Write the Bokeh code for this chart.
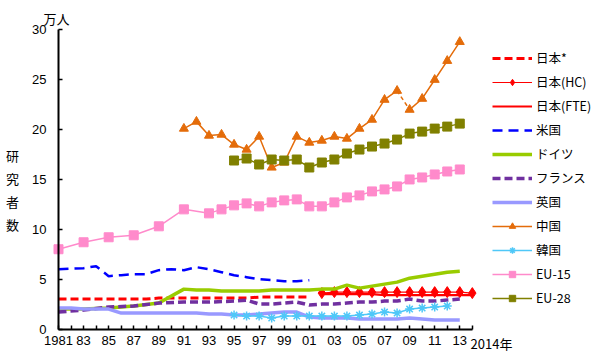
from bokeh.plotting import figure
from bokeh.models import (Range1d, FixedTicker, Label, Legend, LegendItem)
from bokeh.embed import file_html
from bokeh.resources import INLINE

# ---------------- data (万人) ----------------
jp_old_years = list(range(1981, 2002))
jp_old = [3.0, 3.0, 3.0, 3.0, 3.0, 3.0, 3.0, 3.0, 3.1, 3.1, 3.1, 3.1, 3.1, 3.1, 3.1,
          3.1, 3.2, 3.2, 3.2, 3.2, 3.2]

jp_years = list(range(2002, 2015))
jp_hc = [3.6, 3.7, 3.7, 3.7, 3.7, 3.7, 3.7, 3.7, 3.7, 3.7, 3.7, 3.7, 3.6]
jp_fte = [3.5, 3.5, 3.5, 3.5, 3.5, 3.4, 3.4, 3.4, 3.4, 3.4, 3.4, 3.4, 3.4]

us_years = [1981, 1983, 1984, 1985, 1986, 1987, 1988, 1989, 1990, 1991, 1992, 1993,
            1994, 1995, 1996, 1997, 1998, 1999, 2000, 2001]
us = [6.0, 6.1, 6.3, 5.3, 5.4, 5.5, 5.5, 5.9, 6.0, 5.9, 6.2, 6.0,
      5.7, 5.4, 5.2, 5.0, 4.9, 4.8, 4.8, 4.9]

de_years = [1981, 1983, 1985, 1987, 1989, 1991, 1992, 1993, 1994, 1995, 1996, 1997,
            1998, 1999, 2000, 2001, 2002, 2003, 2004, 2005, 2006, 2007, 2008, 2009,
            2010, 2011, 2012, 2013]
de = [2.0, 2.0, 2.1, 2.3, 2.6, 4.0, 3.9, 3.9, 3.8, 3.8, 3.8, 3.8,
      3.9, 3.9, 3.9, 3.9, 4.0, 4.0, 4.4, 4.1, 4.3, 4.5, 4.7, 5.1,
      5.3, 5.5, 5.7, 5.8]

fr_years = [1981, 1983, 1985, 1987, 1989, 1991, 1993, 1995, 1996, 1997, 1998, 1999,
            2000, 2001, 2002, 2003, 2004, 2005, 2006, 2007, 2008, 2009, 2010, 2011,
            2012, 2013]
fr = [1.7, 1.9, 2.2, 2.3, 2.6, 2.7, 2.7, 2.8, 2.9, 2.5, 2.5, 2.6,
      2.7, 2.4, 2.5, 2.5, 2.6, 2.7, 2.7, 2.8, 2.8, 3.0, 2.8, 2.8,
      2.9, 3.0]

uk_years = list(range(1981, 2014))
uk = [2.1, 2.1, 2.0, 2.0, 2.0, 1.6, 1.6, 1.6, 1.6, 1.6, 1.6, 1.6, 1.5, 1.5, 1.4,
      1.4, 1.5, 1.6, 1.7, 1.7, 1.2, 1.1, 1.1, 1.1, 1.0, 1.0, 1.0, 1.0, 1.1, 1.0,
      0.9, 0.9, 0.9]

cn_years = list(range(1991, 2014))
cn = [20.1, 20.8, 19.4, 19.5, 18.5, 18.0, 19.3, 16.2, 16.7, 19.3, 18.7, 18.9,
      19.3, 19.1, 20.1, 21.0, 23.0, 23.9, 22.0, 23.1, 25.0, 26.9, 28.8]
cn_break = 2008  # segment 2008-2009 drawn dashed (series break)

kr_years = list(range(1995, 2013))
kr = [1.4, 1.3, 1.3, 1.1, 1.3, 1.3, 1.3, 1.3, 1.3, 1.3, 1.4, 1.5, 1.7, 1.6,
      2.0, 2.1, 2.2, 2.3]

eu15_years = [1981, 1983, 1985, 1987, 1989, 1991] + list(range(1993, 2014))
eu15 = [8.0, 8.7, 9.2, 9.4, 10.3, 12.0, 11.6, 12.0, 12.4, 12.6, 12.3, 12.7, 12.9,
        13.0, 12.3, 12.3, 12.7, 13.2, 13.4, 13.8, 14.0, 14.3, 15.0, 15.2, 15.5,
        15.8, 16.0]

eu28_years = list(range(1995, 2014))
eu28 = [16.9, 17.1, 16.5, 17.0, 16.9, 17.0, 16.2, 16.7, 17.0, 17.6, 18.0, 18.3,
        18.6, 19.0, 19.6, 19.8, 20.1, 20.3, 20.6]

tick_years = list(range(1981, 2015))
labeled = {1981: "1981"}
for yr in range(1983, 2014, 2):
    labeled[yr] = "%02d" % (yr % 100)
y_ticks = [0, 5, 10, 15, 20, 25, 30]

JP = "Noto Sans CJK JP"
NUM = "Liberation Sans"

# ---------------- figure ----------------
W, H = 592, 354
PX_X, PX_Y = 12.54, 9.97       # pixels per year / per 万人
X0, Y0 = 58, 328.5             # pixel position of the axes origin
x_start = 1981 - X0 / PX_X
y_end = Y0 / PX_Y
p = figure(width=W, height=H, output_backend="svg", toolbar_location=None,
           x_range=Range1d(x_start, x_start + W / PX_X),
           y_range=Range1d(y_end - H / PX_Y, y_end),
           min_border=0, min_border_left=0, min_border_right=0,
           min_border_top=0, min_border_bottom=0)
p.outline_line_color = None
p.xgrid.visible = False
p.ygrid.visible = False
p.background_fill_color = "white"
p.border_fill_color = "white"

p.xaxis.fixed_location = 0
p.yaxis.fixed_location = 1981
p.xaxis.bounds = (1981, 2014)
p.yaxis.bounds = (0, 30)
p.xaxis.ticker = FixedTicker(ticks=tick_years)
p.xaxis.major_label_overrides = {yr: labeled.get(yr, "") for yr in tick_years}
p.xaxis.major_label_standoff = 7
p.yaxis.ticker = FixedTicker(ticks=y_ticks)
p.yaxis.major_label_standoff = 12
for ax in (p.xaxis, p.yaxis):
    ax.minor_tick_line_color = None
    ax.major_tick_in = 4
    ax.major_tick_out = 0
    ax.axis_line_width = 2
    ax.axis_line_color = "black"
    ax.major_tick_line_color = "black"
    ax.major_tick_line_width = 1.5
    ax.major_label_text_font = NUM
    ax.major_label_text_font_size = "13px"
    ax.major_label_text_color = "black"

RED = "#FF0000"
items = []

r1 = p.line(jp_old_years, jp_old, color=RED, line_width=3, line_dash="8 4")
items.append(("日本*", [r1]))

r2a = p.line(jp_years, jp_hc, color=RED, line_width=1.2)
r2b = p.scatter(jp_years, jp_hc, marker="diamond", size=11, color=RED)
items.append(("日本(HC)", [r2a, r2b]))

r3 = p.line(jp_years, jp_fte, color=RED, line_width=2.2)
items.append(("日本(FTE)", [r3]))

r4 = p.line(us_years, us, color="#0000FF", line_width=2.5, line_dash="10 6")
items.append(("米国", [r4]))

r5 = p.line(de_years, de, color="#99CC00", line_width=3.5)
items.append(("ドイツ", [r5]))

r6 = p.line(fr_years, fr, color="#7030A0", line_width=3.5, line_dash="8 4")
items.append(("フランス", [r6]))

r7 = p.line(uk_years, uk, color="#9999FF", line_width=3.5)
items.append(("英国", [r7]))

CN = "#E46C0A"
i_b = cn_years.index(cn_break)
r8a = p.line(cn_years[:i_b + 1], cn[:i_b + 1], color=CN, line_width=1.5)
p.line(cn_years[i_b:i_b + 2], cn[i_b:i_b + 2], color=CN, line_width=1.5, line_dash="4 3")
p.line(cn_years[i_b + 1:], cn[i_b + 1:], color=CN, line_width=1.5)
r8b = p.scatter(cn_years, cn, marker="triangle", size=9, color=CN)
items.append(("中国", [r8a, r8b]))

KR = "#4FC8F8"
r9a = p.line(kr_years, kr, color=KR, line_width=1.5)
r9b = p.scatter(kr_years, kr, marker="asterisk", size=9, line_color=KR, line_width=1.5)
items.append(("韓国", [r9a, r9b]))

PK = "#FF8ACB"
r10a = p.line(eu15_years, eu15, color=PK, line_width=1.5)
r10b = p.scatter(eu15_years, eu15, marker="square", size=9, color=PK)
items.append(("EU-15", [r10a, r10b]))

OL = "#808000"
r11a = p.line(eu28_years, eu28, color=OL, line_width=1.5)
r11b = p.scatter(eu28_years, eu28, marker="square", size=9, color=OL)
items.append(("EU-28", [r11a, r11b]))

legend = Legend(items=[LegendItem(label=l, renderers=r) for l, r in items],
                location=(492, 47), orientation="vertical")
legend.glyph_width = 40
legend.glyph_height = 16
legend.label_height = 16
legend.spacing = 5
legend.padding = 0
legend.margin = 0
legend.label_standoff = 4
legend.border_line_alpha = 0
legend.background_fill_alpha = 0
legend.label_text_font = JP
legend.label_text_font_size = "12.5px"
legend.label_text_color = "black"
p.add_layout(legend, "center")

# texts
p.add_layout(Label(x=1980.84, y=31.14, text="万人", text_font=JP, text_font_size="13px",
                   text_align="center", text_baseline="middle", text_color="black"))
p.add_layout(Label(x=1977.33, y=18.31, text="研\n究\n者\n数", text_font=JP,
                   text_font_size="13px", text_align="center", text_baseline="top",
                   text_line_height=1.2, text_color="black"))
p.add_layout(Label(x=2013.86, y=-1.45, text="2014年", text_font=JP, text_font_size="13px",
                   text_align="left", text_baseline="middle", text_color="black"))

open("out.html", "w").write(file_html(p, INLINE))
